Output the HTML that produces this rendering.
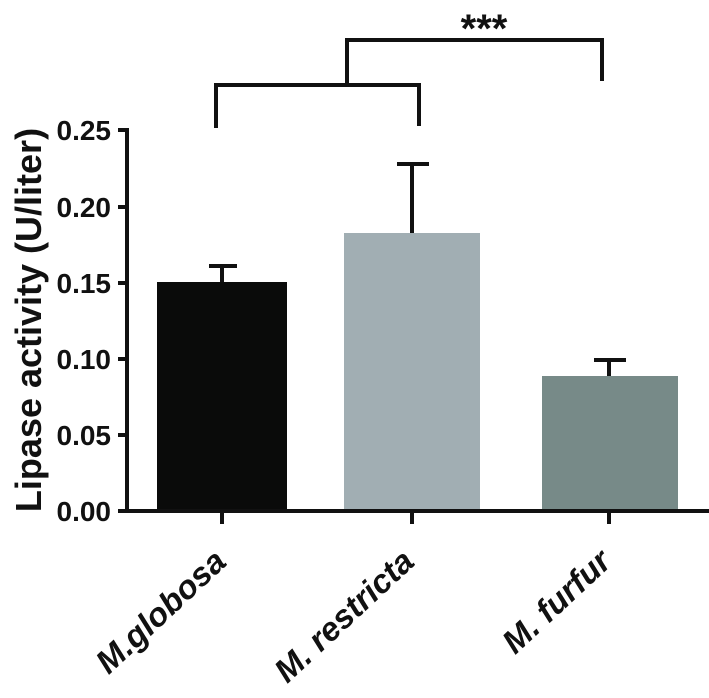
<!DOCTYPE html>
<html><head><style>body{margin:0;background:#fff}</style></head><body>
<svg width="709" height="693" xmlns="http://www.w3.org/2000/svg" font-family="Liberation Sans, Arial, sans-serif" font-weight="bold">
<rect width="709" height="693" fill="#fff"/>
<rect x="157" y="282" width="130" height="229" fill="#0a0b0a"/>
<rect x="344" y="233" width="136" height="278" fill="#a1aeb3"/>
<rect x="542" y="376" width="136" height="135" fill="#778a88"/>
<g stroke="#111" stroke-width="4" fill="none">
<path d="M222 282V266M209 266H237"/>
<path d="M412 233V164M397 164H429"/>
<path d="M609 376V360M594 360H626"/>
<path d="M127 128V513M118 511H709"/>
<path d="M118 130H127M118 207H127M118 283H127M118 359H127M118 435H127"/>
<path d="M222 511V524M412 511V524M609 511V524"/>
<path d="M216 128V85H419V126"/>
<path d="M347 83V40H602V81"/>
</g>
<g font-size="28" text-anchor="end" fill="#111">
<text x="111" y="140">0.25</text><text x="111" y="217">0.20</text><text x="111" y="293">0.15</text>
<text x="111" y="369">0.10</text><text x="111" y="445">0.05</text><text x="111" y="521">0.00</text>
</g>
<text transform="translate(41,320) rotate(-90)" text-anchor="middle" font-size="36" fill="#111">Lipase activity (U/liter)</text>
<text x="484" y="42" font-size="40" text-anchor="middle" fill="#111">***</text>
<g font-size="33" font-style="italic" text-anchor="end" fill="#111">
<text transform="translate(228,564) rotate(-43)">M.globosa</text>
<text transform="translate(416,564) rotate(-43)">M. restricta</text>
<text transform="translate(613,564) rotate(-43)">M. furfur</text>
</g>
</svg>
</body></html>
